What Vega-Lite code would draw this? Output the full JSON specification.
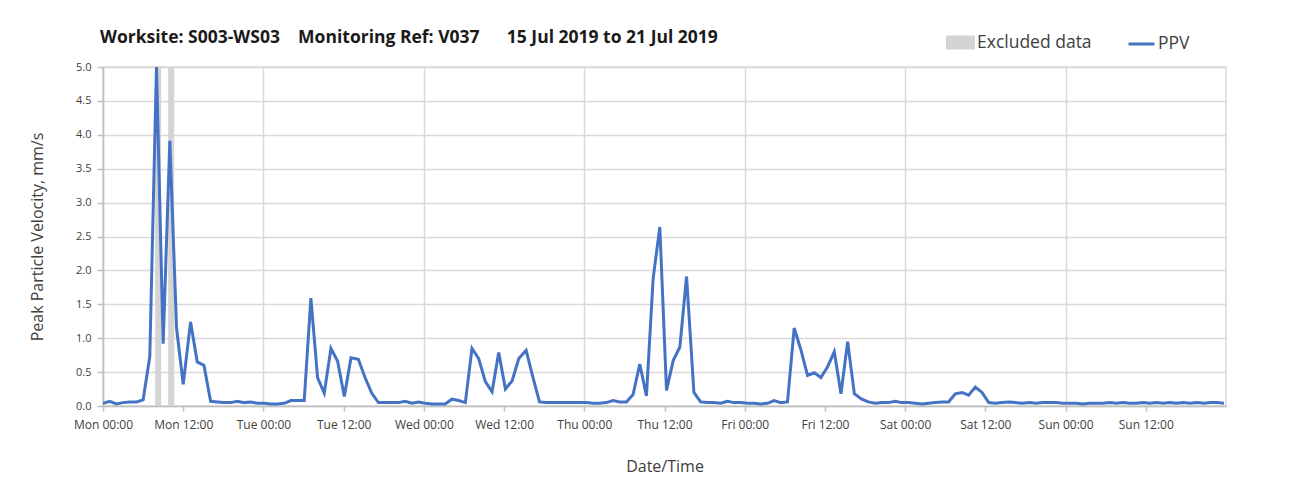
{
  "$schema": "https://vega.github.io/schema/vega-lite/v6.json",
  "width": 1123,
  "height": 339,
  "autosize": {"type": "none"},
  "padding": {"left": 103, "top": 67, "right": 64, "bottom": 94},
  "background": "white",
  "title": {
    "text": "Worksite: S003-WS03\u00a0\u00a0\u00a0\u00a0Monitoring Ref: V037\u00a0\u00a0\u00a0\u00a0\u00a0\u00a015 Jul 2019 to 21 Jul 2019",
    "anchor": "start",
    "frame": "group",
    "orient": "top",
    "offset": -18,
    "dx": -3,
    "fontSize": 17.5,
    "fontWeight": "bold",
    "color": "#1a1a1a",
    "font": "Open Sans"
  },
  "datasets": {
    "excluded": [
      {"start": 7.8, "end": 8.7},
      {"start": 9.75, "end": 10.65}
    ],
    "ppv": [
      {"t": 0, "v": 0.04}, {"t": 1, "v": 0.07}, {"t": 2, "v": 0.03}, {"t": 3, "v": 0.05},
      {"t": 4, "v": 0.06}, {"t": 5, "v": 0.06}, {"t": 6, "v": 0.09}, {"t": 7, "v": 0.73},
      {"t": 8, "v": 5.0}, {"t": 9, "v": 0.92}, {"t": 10, "v": 3.91}, {"t": 11, "v": 1.15},
      {"t": 12, "v": 0.32}, {"t": 13.1, "v": 1.24}, {"t": 14.1, "v": 0.65}, {"t": 15.1, "v": 0.6},
      {"t": 16.1, "v": 0.07}, {"t": 17.1, "v": 0.06}, {"t": 18.1, "v": 0.05}, {"t": 19.1, "v": 0.05},
      {"t": 20.1, "v": 0.07}, {"t": 21.1, "v": 0.05}, {"t": 22.1, "v": 0.06}, {"t": 23.1, "v": 0.04},
      {"t": 24.1, "v": 0.04}, {"t": 25.1, "v": 0.03}, {"t": 26.1, "v": 0.03}, {"t": 27.1, "v": 0.04},
      {"t": 28.1, "v": 0.08}, {"t": 29.1, "v": 0.08}, {"t": 30.1, "v": 0.08}, {"t": 31.1, "v": 1.59},
      {"t": 32.1, "v": 0.42}, {"t": 33.1, "v": 0.19}, {"t": 34.1, "v": 0.85}, {"t": 35.1, "v": 0.66},
      {"t": 36.1, "v": 0.14}, {"t": 37.1, "v": 0.71}, {"t": 38.2, "v": 0.69}, {"t": 39.2, "v": 0.42},
      {"t": 40.2, "v": 0.19}, {"t": 41.2, "v": 0.05}, {"t": 42.2, "v": 0.05}, {"t": 43.2, "v": 0.05},
      {"t": 44.2, "v": 0.05}, {"t": 45.2, "v": 0.07}, {"t": 46.2, "v": 0.04}, {"t": 47.2, "v": 0.06},
      {"t": 48.2, "v": 0.04}, {"t": 49.2, "v": 0.03}, {"t": 50.2, "v": 0.03}, {"t": 51.2, "v": 0.03},
      {"t": 52.2, "v": 0.1}, {"t": 53.2, "v": 0.08}, {"t": 54.2, "v": 0.05}, {"t": 55.2, "v": 0.85},
      {"t": 56.2, "v": 0.7}, {"t": 57.2, "v": 0.36}, {"t": 58.2, "v": 0.21}, {"t": 59.2, "v": 0.79},
      {"t": 60.2, "v": 0.25}, {"t": 61.2, "v": 0.37}, {"t": 62.2, "v": 0.7}, {"t": 63.3, "v": 0.82},
      {"t": 64.3, "v": 0.43}, {"t": 65.3, "v": 0.06}, {"t": 66.3, "v": 0.05}, {"t": 67.3, "v": 0.05},
      {"t": 68.3, "v": 0.05}, {"t": 69.3, "v": 0.05}, {"t": 70.3, "v": 0.05}, {"t": 71.3, "v": 0.05},
      {"t": 72.3, "v": 0.05}, {"t": 73.3, "v": 0.04}, {"t": 74.3, "v": 0.04}, {"t": 75.3, "v": 0.05},
      {"t": 76.3, "v": 0.08}, {"t": 77.3, "v": 0.06}, {"t": 78.3, "v": 0.06}, {"t": 79.3, "v": 0.17},
      {"t": 80.3, "v": 0.62}, {"t": 81.3, "v": 0.15}, {"t": 82.3, "v": 1.88}, {"t": 83.3, "v": 2.64},
      {"t": 84.3, "v": 0.23}, {"t": 85.3, "v": 0.67}, {"t": 86.3, "v": 0.87}, {"t": 87.3, "v": 1.91},
      {"t": 88.4, "v": 0.2}, {"t": 89.4, "v": 0.06}, {"t": 90.4, "v": 0.05}, {"t": 91.4, "v": 0.05},
      {"t": 92.4, "v": 0.04}, {"t": 93.4, "v": 0.07}, {"t": 94.4, "v": 0.05}, {"t": 95.4, "v": 0.05},
      {"t": 96.4, "v": 0.04}, {"t": 97.4, "v": 0.04}, {"t": 98.4, "v": 0.03}, {"t": 99.4, "v": 0.04},
      {"t": 100.4, "v": 0.08}, {"t": 101.4, "v": 0.05}, {"t": 102.4, "v": 0.06}, {"t": 103.4, "v": 1.15},
      {"t": 104.4, "v": 0.83}, {"t": 105.4, "v": 0.45}, {"t": 106.4, "v": 0.49}, {"t": 107.4, "v": 0.42},
      {"t": 108.4, "v": 0.58}, {"t": 109.4, "v": 0.8}, {"t": 110.4, "v": 0.18}, {"t": 111.4, "v": 0.95},
      {"t": 112.4, "v": 0.18}, {"t": 113.5, "v": 0.1}, {"t": 114.5, "v": 0.06}, {"t": 115.5, "v": 0.04},
      {"t": 116.5, "v": 0.05}, {"t": 117.5, "v": 0.05}, {"t": 118.5, "v": 0.07}, {"t": 119.5, "v": 0.05},
      {"t": 120.5, "v": 0.05}, {"t": 121.5, "v": 0.04}, {"t": 122.5, "v": 0.03}, {"t": 123.5, "v": 0.04},
      {"t": 124.5, "v": 0.05}, {"t": 125.5, "v": 0.06}, {"t": 126.5, "v": 0.06}, {"t": 127.5, "v": 0.18},
      {"t": 128.5, "v": 0.2}, {"t": 129.5, "v": 0.16}, {"t": 130.5, "v": 0.28}, {"t": 131.5, "v": 0.2},
      {"t": 132.5, "v": 0.05}, {"t": 133.5, "v": 0.04}, {"t": 134.5, "v": 0.05}, {"t": 135.5, "v": 0.06},
      {"t": 136.5, "v": 0.05}, {"t": 137.5, "v": 0.04}, {"t": 138.6, "v": 0.05}, {"t": 139.6, "v": 0.04},
      {"t": 140.6, "v": 0.05}, {"t": 141.6, "v": 0.05}, {"t": 142.6, "v": 0.05}, {"t": 143.6, "v": 0.04},
      {"t": 144.6, "v": 0.04}, {"t": 145.6, "v": 0.04}, {"t": 146.6, "v": 0.03}, {"t": 147.6, "v": 0.04},
      {"t": 148.6, "v": 0.04}, {"t": 149.6, "v": 0.04}, {"t": 150.6, "v": 0.05}, {"t": 151.6, "v": 0.04},
      {"t": 152.6, "v": 0.05}, {"t": 153.6, "v": 0.04}, {"t": 154.6, "v": 0.04}, {"t": 155.6, "v": 0.05},
      {"t": 156.6, "v": 0.04}, {"t": 157.6, "v": 0.05}, {"t": 158.6, "v": 0.04}, {"t": 159.6, "v": 0.05},
      {"t": 160.6, "v": 0.04}, {"t": 161.6, "v": 0.05}, {"t": 162.6, "v": 0.04}, {"t": 163.7, "v": 0.05},
      {"t": 164.7, "v": 0.04}, {"t": 165.7, "v": 0.05}, {"t": 166.7, "v": 0.05}, {"t": 167.7, "v": 0.04}
    ]
  },
  "layer": [
    {
      "data": {"name": "excluded"},
      "mark": {"type": "rect"},
      "encoding": {
        "x": {
          "field": "start",
          "type": "quantitative",
          "scale": {"domain": [0, 168], "nice": false, "zero": false},
          "axis": {
            "values": [0, 12, 24, 36, 48, 60, 72, 84, 96, 108, 120, 132, 144, 156],
            "labelExpr": "['Mon','Tue','Wed','Thu','Fri','Sat','Sun'][floor(datum.value/24)] + (datum.value % 24 == 0 ? ' 00:00' : ' 12:00')",
            "grid": true,
            "gridOpacity": {"condition": {"test": "datum.value % 24 == 0", "value": 1}, "value": 0},
            "gridColor": "#d9d9d9",
            "gridWidth": 1.5,
            "domainColor": "#bfbfbf",
            "domainWidth": 1.5,
            "tickColor": "#bfbfbf",
            "tickWidth": 1.5,
            "tickSize": 5,
            "labelFontSize": 12,
            "labelColor": "#404040",
            "labelPadding": 8,
            "labelFlush": false,
            "labelOverlap": false,
            "labelBound": false,
            "title": "Date/Time",
            "titleFontSize": 16,
            "titleFontWeight": "normal",
            "titleColor": "#404040",
            "titlePadding": 28
          }
        },
        "x2": {"field": "end"},
        "color": {
          "datum": "Excluded data",
          "type": "nominal",
          "scale": {"domain": ["Excluded data", "PPV"], "range": ["#d4d4d4", "#4472c4"]},
          "legend": {
            "orient": "none",
            "legendX": 843,
            "legendY": -39,
            "direction": "horizontal",
            "title": null,
            "labelFontSize": 17.5,
            "labelColor": "#404040",
            "labelOffset": 2,
            "columnPadding": 30,
            "symbolSize": 676,
            "symbolStrokeWidth": 3,
            "encode": {
              "symbols": {
                "update": {
                  "shape": {"signal": "datum.value === 'PPV' ? 'M-1,0H1' : 'M-1,-0.42H1V0.42H-1Z'"},
                  "fill": {"signal": "datum.value === 'PPV' ? 'transparent' : '#d4d4d4'"},
                  "stroke": {"signal": "datum.value === 'PPV' ? '#4472c4' : 'transparent'"},
                  "strokeWidth": {"value": 3},
                  "opacity": {"value": 1}
                }
              }
            }
          }
        }
      }
    },
    {
      "data": {"name": "ppv"},
      "mark": {"type": "line", "strokeWidth": 3, "clip": true},
      "encoding": {
        "x": {"field": "t", "type": "quantitative"},
        "y": {
          "field": "v",
          "type": "quantitative",
          "scale": {"domain": [0, 5], "nice": false},
          "axis": {
            "values": [0, 0.5, 1, 1.5, 2, 2.5, 3, 3.5, 4, 4.5, 5],
            "format": ".1f",
            "grid": true,
            "gridColor": "#d9d9d9",
            "gridWidth": 1.5,
            "domainColor": "#bfbfbf",
            "domainWidth": 1.5,
            "tickColor": "#bfbfbf",
            "tickWidth": 1.5,
            "tickSize": 6,
            "labelFontSize": 11,
            "labelColor": "#404040",
            "labelPadding": 6,
            "title": "Peak Particle Velocity, mm/s",
            "titleFontSize": 16,
            "titleFontWeight": "normal",
            "titleColor": "#404040",
            "titlePadding": 30
          }
        },
        "color": {"datum": "PPV", "type": "nominal"}
      }
    }
  ],
  "config": {
    "font": "Open Sans",
    "view": {"stroke": "#d9d9d9", "strokeWidth": 1.5}
  }
}
